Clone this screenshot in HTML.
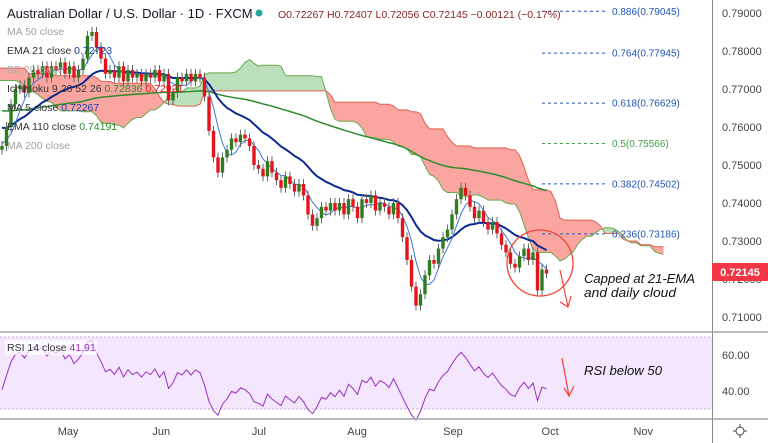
<!DOCTYPE html>
<html><head><meta charset="utf-8"><style>
body{margin:0;background:#fff;font-family:"Liberation Sans",sans-serif}
svg{display:block}
</style></head><body>
<svg id="c" width="768" height="443" viewBox="0 0 768 443" xmlns="http://www.w3.org/2000/svg"></svg>
<script>
const history=[0.770,0.772,0.775,0.778,0.781,0.784,0.787,0.789,0.786,0.782,0.779,0.776,0.778,0.774,0.770,0.772,0.768,0.766,0.770,0.773,0.776,0.774,0.771,0.768,0.765,0.762,0.765,0.768,0.770,0.767,0.764,0.762,0.759,0.762,0.765,0.763,0.760,0.762,0.758,0.761,0.763,0.760,0.762,0.764,0.761,0.758,0.760,0.757,0.755,0.758,0.756,0.754];
const closes=[0.755,0.760,0.766,0.770,0.771,0.769,0.773,0.775,0.774,0.776,0.773,0.776,0.775,0.777,0.774,0.776,0.773,0.775,0.778,0.784,0.785,0.781,0.778,0.774,0.775,0.773,0.776,0.772,0.775,0.773,0.774,0.772,0.774,0.773,0.775,0.772,0.774,0.767,0.769,0.773,0.772,0.774,0.772,0.774,0.773,0.768,0.759,0.752,0.748,0.752,0.754,0.757,0.756,0.758,0.757,0.755,0.750,0.749,0.747,0.751,0.748,0.746,0.744,0.747,0.745,0.743,0.745,0.742,0.737,0.734,0.736,0.739,0.738,0.740,0.738,0.740,0.737,0.741,0.739,0.736,0.741,0.740,0.742,0.738,0.740,0.739,0.737,0.740,0.736,0.731,0.725,0.718,0.713,0.716,0.721,0.725,0.724,0.728,0.731,0.733,0.737,0.741,0.744,0.742,0.739,0.736,0.738,0.735,0.733,0.735,0.732,0.729,0.727,0.724,0.723,0.726,0.728,0.725,0.727,0.717,0.7225,0.72145];
const priceTicks=[0.79,0.78,0.77,0.76,0.75,0.74,0.73,0.72,0.71];
const rsiTicks=[60,40];
const months=["May","Jun","Jul","Aug","Sep","Oct","Nov"];
const monthIdx=[14.7,35.4,57.1,78.9,100.2,121.8,142.5];
const fibLevels=[0.886,0.764,0.618,0.5,0.382,0.236];
const fibPrices=[0.79045,0.77945,0.76629,0.75566,0.74502,0.73186];
const wick=0.0013;

const svg=document.getElementById('c');const NS='http://www.w3.org/2000/svg';
function el(t,a,p){const e=document.createElementNS(NS,t);for(const k in a)e.setAttribute(k,a[k]);(p||svg).appendChild(e);return e;}
const X=i=>2+i*4.5;
const Y=p=>13+(0.79-p)*3800;
const RY=v=>391-(v-40)*1.8;
const H=history.length;
const all=history.concat(closes);
const N=all.length;
const opens=all.map((c,i)=>i?all[i-1]:c-0.002);
const highs=all.map((c,i)=>Math.max(c,opens[i])+wick);
const lows=all.map((c,i)=>Math.min(c,opens[i])-wick);
const PX=j=>X(j-H);

let r=el('rect',{x:0,y:RY(70),width:712,height:RY(30)-RY(70),fill:'#f3e6fd'});

[70,30].forEach(v=>{let l=el('line',{x1:0,x2:712,y1:RY(v),y2:RY(v),stroke:'#c9a7d8','stroke-dasharray':'2 2'});});

function mid(a,b){let h=-1,l=9;for(let k=Math.max(0,a);k<=b;k++){h=Math.max(h,highs[k]);l=Math.min(l,lows[k]);}return (h+l)/2;}
const sa=[],sb=[];
for(let j=0;j<N;j++){if(j+26-H<-1)continue;sa.push({j:j+26,v:(mid(j-8,j)+mid(j-25,j))/2});sb.push({j:j+26,v:mid(j-51,j)});}
const cloud=el('g',{});
for(let k=0;k<sa.length-1;k++){const a0=sa[k].v,a1=sa[k+1].v,b0=sb[k].v,b1=sb[k+1].v;
 const col=(a0+a1)>=(b0+b1)?'rgba(76,175,80,0.38)':'rgba(244,67,54,0.48)';
 let p=el('polygon',{points:`${PX(sa[k].j)},${Y(a0)} ${PX(sa[k+1].j)},${Y(a1)} ${PX(sa[k+1].j)},${Y(b1)} ${PX(sa[k].j)},${Y(b0)}`,fill:col},cloud);
 }
function line(pts,col,w,name){let p=el('polyline',{points:pts.map(q=>q.join(',')).join(' '),fill:'none',stroke:col,'stroke-width':w});}
line(sa.map(q=>[PX(q.j),Y(q.v)]),'#6aa84f',1,'senkou-span-a');
line(sb.map(q=>[PX(q.j),Y(q.v)]),'#e06050',1,'senkou-span-b');

let e=0.762;const e110=all.map(c=>e=e+(c-e)*2/111);
line(e110.slice(H).map((v,i)=>[X(i),Y(v)]),'#2e8b2e',1.5,'ema-110-line');
let e2=0.765;const e21=all.map(c=>e2=e2+(c-e2)*2/22);
line(e21.slice(H).map((v,i)=>[X(i),Y(v)]),'#0b2a8f',2,'ema-21-line');
const ma5=all.map((c,i)=>{let s=0,m=0;for(let k=Math.max(0,i-4);k<=i;k++){s+=all[k];m++;}return s/m;});
line(ma5.slice(H).map((v,i)=>[X(i),Y(v)]),'#3a78d6',1,'ma-5-line');

for(let j=H;j<N;j++){const up=all[j]>=opens[j];const g=el('g',{});
 
 el('line',{x1:PX(j),x2:PX(j),y1:Y(highs[j]),y2:Y(lows[j]),stroke:'#666','stroke-width':1},g);
 const t=Y(Math.max(opens[j],all[j])),b=Y(Math.min(opens[j],all[j]));
 el('rect',{x:PX(j)-1.7,y:t,width:3.4,height:Math.max(1,b-t),fill:up?'#2f7d1f':'#e5131c'},g);}

fibLevels.forEach((f,k)=>{const y=Y(fibPrices[k]);const col=f===0.5?'#43a047':'#2155b8';
 let l=el('line',{x1:542,x2:608,y1:y,y2:y,stroke:col,'stroke-dasharray':'3 3','stroke-width':1});
 let t=el('text',{x:612,y:y+3.5,fill:col,'font-size':10});t.textContent=f+'('+fibPrices[k].toFixed(5)+')';});

let ag=0.0015,al=0.0015;const rsi=[];
for(let j=1;j<N;j++){const d=all[j]-all[j-1];const g=Math.max(d,0),l=Math.max(-d,0);
 ag=(ag*13+g)/14;al=(al*13+l)/14;
 if(j>=H)rsi.push([PX(j),RY(100-100/(1+ag/al))]);}
line(rsi,'#9c2fc0',1,'rsi-line');

let a=el('line',{x1:712.5,x2:712.5,y1:0,y2:443,stroke:'#888'});
a=el('line',{x1:0,x2:768,y1:332,y2:332,stroke:'#a0a3ab','stroke-width':1.5});
a=el('line',{x1:0,x2:768,y1:419,y2:419,stroke:'#a0a3ab','stroke-width':1.5});
priceTicks.forEach(p=>{let t=el('text',{x:722,y:Y(p)+4,fill:'#444','font-size':11});t.textContent=p.toFixed(5);});
rsiTicks.forEach(v=>{let t=el('text',{x:722,y:RY(v)+4,fill:'#444','font-size':11});t.textContent=v.toFixed(2);});
months.forEach((m,k)=>{let t=el('text',{x:X(monthIdx[k]),y:435,fill:'#444','font-size':11,'text-anchor':'middle'});t.textContent=m;});
</script>
<svg width="768" height="443" style="position:absolute;left:0;top:0" xmlns="http://www.w3.org/2000/svg" font-family="Liberation Sans, sans-serif">
<rect x="712" y="263" width="56" height="18" fill="#f23645"/>
<text x="740" y="276" fill="#fff" font-size="11" font-weight="bold" text-anchor="middle">0.72145</text>
<text x="7" y="18" font-size="13" fill="#131722">Australian Dollar / U.S. Dollar · 1D · FXCM</text>
<circle cx="259" cy="13" r="3.5" fill="#26a69a"/>
<text x="278" y="18" font-size="10.5" fill="#8b1f1f">O0.72267 H0.72407 L0.72056 C0.72145 −0.00121 (−0.17%)</text>
<g font-size="10.5">
<text x="7" y="35" fill="#a0a0a0">MA 50 close</text>
<text x="7" y="54" fill="#333">EMA 21 close <tspan fill="#1a3fa8">0.72723</tspan></text>
<text x="7" y="73" fill="#b0b0b0">BB 20 close</text>
<text x="7" y="92" fill="#333">Ichimoku 9 26 52 26 <tspan fill="#2e8b2e">0.72836</tspan> <tspan fill="#e5131c">0.72921</tspan></text>
<text x="7" y="111" fill="#333">MA 5 close <tspan fill="#1a3fa8">0.72267</tspan></text>
<text x="7" y="130" fill="#333">EMA 110 close <tspan fill="#2e8b2e">0.74191</tspan></text>
<text x="7" y="149" fill="#a0a0a0">MA 200 close</text>
</g>
<rect x="5" y="340" width="92" height="15" fill="#fff" opacity="0.7"/>
<text x="7" y="351" font-size="10.5" fill="#333">RSI 14 close <tspan fill="#9c2fc0">41.91</tspan></text>
<circle cx="540" cy="263" r="33" fill="none" stroke="#f44336" stroke-width="1.3"/>
<path d="M560 270 L568 307 M560 302 L568 307 L571 296" fill="none" stroke="#f44336" stroke-width="1.2"/>
<text x="584" y="283" font-size="13" font-style="italic" fill="#111" textLength="111" lengthAdjust="spacingAndGlyphs">Capped at 21-EMA</text>
<text x="584" y="297" font-size="13" font-style="italic" fill="#111" textLength="92" lengthAdjust="spacingAndGlyphs">and daily cloud</text>
<path d="M562 358 L569 396 M564 388 L569 396 L574 386" fill="none" stroke="#f44336" stroke-width="1.2"/>
<text x="584" y="375" font-size="13" font-style="italic" fill="#111" textLength="78" lengthAdjust="spacingAndGlyphs">RSI below 50</text>
<g><circle cx="740" cy="431" r="4" fill="none" stroke="#444"/><path d="M740 424v3M740 435v3M733 431h3M744 431h3" stroke="#444"/></g>
</svg>
</body></html>
